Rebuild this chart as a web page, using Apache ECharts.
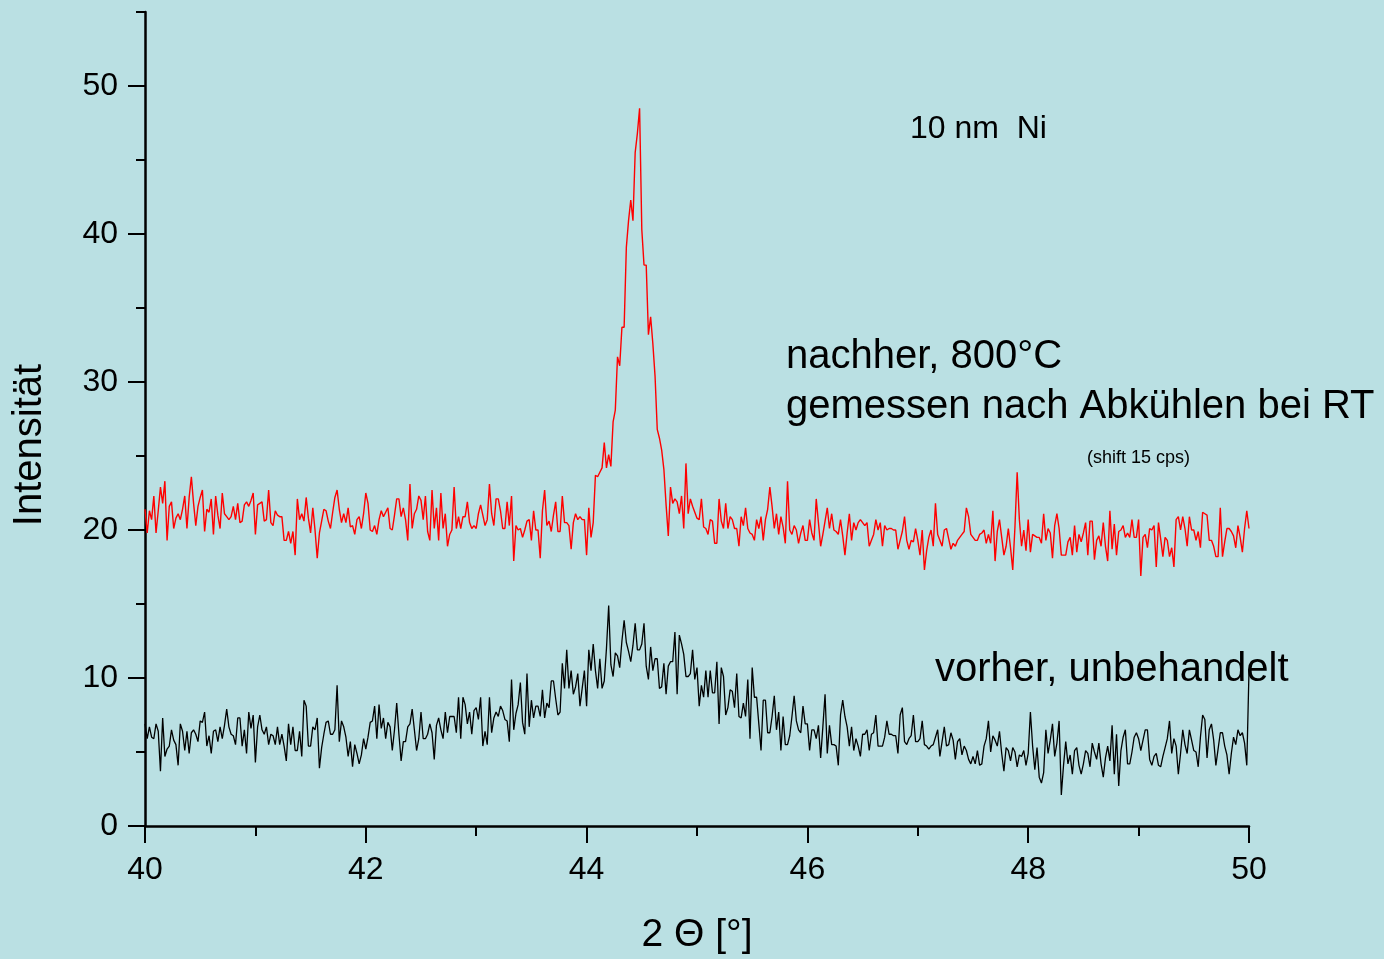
<!DOCTYPE html>
<html>
<head>
<meta charset="utf-8">
<title>XRD 10 nm Ni</title>
<script src="https://cdn.jsdelivr.net/npm/echarts@6/dist/echarts.min.js"></script>
<style>
  html, body { margin: 0; padding: 0; background: #BAE0E3; }
  #chart { width: 1384px; height: 959px; }
</style>
</head>
<body>
<div id="chart"></div>
<script>
// Scan: 2-theta from 40° to 50° in 0.02° steps
const thetaStart = 40;
const thetaStep = 0.02;

// After annealing at 800 °C, measured at RT (plotted with +15 cps offset)
const afterAnneal = [
  21.4, 19.8, 21.3, 20.7, 22.3, 19.8, 21.3, 22.9, 21.8, 23.3,
  19.3, 21.6, 21.9, 20.1, 20.8, 21.1, 20.7, 21.4, 22.3, 20.1,
  22.2, 23.6, 21.8, 20.3, 21.6, 22.2, 22.7, 19.9, 21.4, 21.2,
  22.1, 19.7, 22.3, 21.0, 20.1, 22.5, 21.1, 20.9, 20.7, 20.9,
  21.6, 20.7, 21.8, 20.5, 20.6, 21.7, 21.9, 21.6, 22.0, 22.5,
  19.7, 21.7, 21.8, 21.9, 20.6, 20.7, 22.7, 20.5, 20.3, 21.3,
  21.0, 20.9, 20.9, 19.3, 19.3, 19.9, 19.1, 19.9, 18.3, 22.1,
  20.7, 21.1, 20.6, 22.2, 20.8, 19.8, 21.5, 20.0, 18.1, 19.8,
  20.6, 21.4, 21.3, 20.6, 20.1, 21.2, 22.2, 22.7, 21.4, 20.5,
  21.1, 20.5, 21.5, 20.2, 20.3, 19.7, 20.7, 20.9, 20.1, 21.1,
  22.5, 21.8, 20.0, 19.9, 20.3, 19.7, 20.7, 21.3, 20.9, 21.2,
  21.5, 20.1, 20.0, 21.0, 22.1, 22.1, 20.9, 21.5, 20.7, 19.3,
  23.1, 20.1, 21.1, 21.4, 22.3, 22.0, 20.7, 22.3, 19.9, 19.3,
  22.7, 20.1, 21.5, 19.3, 22.5, 20.1, 21.1, 18.9, 19.7, 20.0,
  22.9, 20.1, 20.9, 20.1, 20.9, 20.9, 21.9, 20.5, 20.1, 20.3,
  20.1, 21.1, 21.7, 21.0, 20.3, 20.7, 23.1, 21.1, 20.3, 22.1,
  22.1, 21.3, 20.1, 20.1, 21.9, 20.3, 22.3, 17.9, 20.3, 20.0,
  20.1, 19.5, 20.0, 20.6, 20.7, 19.3, 21.3, 20.0, 20.0, 18.1,
  21.3, 22.7, 20.3, 20.6, 19.9, 21.0, 21.9, 19.9, 19.9, 22.3,
  20.5, 20.5, 20.3, 18.7, 20.5, 21.1, 20.7, 20.9, 20.7, 20.7,
  18.3, 21.5, 19.5, 20.5, 23.7, 23.6, 23.9, 24.2, 25.9, 24.2,
  25.1, 24.3, 27.3, 28.1, 31.7, 31.1, 33.7, 33.7, 39.1, 40.9,
  42.3, 40.9, 45.5, 46.8, 48.5, 40.3, 37.9, 37.9, 33.2, 34.4,
  32.6, 30.4, 26.8, 26.2, 25.4, 24.1, 21.7, 19.6, 22.9, 21.8,
  22.1, 21.9, 21.1, 22.3, 20.1, 24.5, 21.1, 22.1, 21.6, 21.2,
  20.8, 20.7, 22.1, 20.2, 20.1, 19.7, 20.7, 20.6, 19.1, 19.1,
  22.1, 20.6, 20.1, 21.8, 20.1, 20.9, 20.7, 20.1, 20.1, 18.9,
  20.9, 20.3, 21.5, 20.1, 19.8, 19.7, 19.3, 20.7, 20.1, 20.9,
  19.3, 20.7, 21.4, 22.9, 21.6, 20.1, 21.1, 19.7, 20.9, 20.2,
  19.1, 23.3, 20.0, 19.7, 20.3, 20.0, 19.1, 19.8, 20.3, 19.3,
  19.3, 20.7, 19.8, 19.3, 22.1, 20.5, 18.9, 19.7, 20.6, 21.5,
  20.1, 21.1, 20.0, 19.9, 19.7, 20.7, 19.6, 18.3, 19.8, 21.1,
  19.3, 20.5, 20.0, 20.5, 20.7, 20.5, 20.3, 20.5, 18.9, 19.3,
  19.7, 20.7, 20.0, 20.5, 18.9, 20.3, 20.0, 20.1, 20.1, 20.0,
  20.0, 18.7, 19.3, 19.9, 20.9, 19.3, 18.7, 19.3, 19.2, 20.1,
  19.3, 18.3, 20.0, 17.3, 18.6, 19.5, 20.0, 18.9, 21.8, 19.7,
  19.3, 18.9, 20.0, 20.1, 19.4, 18.7, 19.1, 18.9, 19.3, 19.5,
  19.7, 19.9, 21.5, 20.9, 19.7, 19.5, 19.3, 19.3, 19.7, 19.8,
  20.0, 19.1, 19.7, 19.1, 21.3, 17.9, 19.9, 20.7, 19.5, 18.3,
  18.9, 20.1, 18.8, 17.3, 20.2, 23.9, 20.7, 18.9, 20.0, 18.6,
  20.7, 18.5, 19.7, 19.6, 19.5, 19.5, 19.1, 21.1, 19.3, 20.1,
  19.8, 18.1, 20.3, 21.1, 20.1, 18.3, 18.3, 18.3, 19.2, 19.5,
  18.3, 20.3, 18.5, 19.7, 19.2, 19.8, 20.5, 18.3, 20.6, 20.6,
  18.0, 19.3, 19.6, 18.9, 20.5, 18.9, 17.9, 21.3, 18.7, 20.4,
  18.3, 19.9, 20.0, 20.3, 19.5, 19.8, 19.5, 20.7, 19.5, 19.5,
  20.7, 16.9, 19.5, 19.7, 18.8, 20.1, 20.0, 20.3, 17.5, 20.5,
  19.4, 18.2, 19.5, 19.3, 18.2, 18.8, 17.5, 20.7, 20.9, 20.0,
  20.9, 20.1, 18.9, 20.9, 20.0, 20.0, 19.3, 19.9, 18.8, 21.2,
  21.1, 21.0, 19.3, 19.3, 18.9, 18.2, 18.2, 21.5, 18.2, 19.2,
  20.1, 20.1, 19.9, 19.6, 18.8, 20.3, 19.5, 18.5, 20.1, 21.3,
  20.1
];

// As deposited, untreated
const beforeAnneal = [
  6.9, 5.9, 6.7, 6.0, 5.9, 6.9, 6.4, 3.7, 7.3, 4.7,
  5.2, 5.4, 6.5, 5.8, 5.5, 4.1, 6.9, 6.4, 5.1, 6.4,
  4.9, 6.3, 6.5, 6.2, 5.7, 7.1, 7.0, 7.7, 5.4, 6.1,
  4.9, 6.4, 6.5, 5.7, 6.7, 5.9, 6.8, 7.9, 6.7, 6.2,
  6.1, 5.5, 7.3, 7.3, 5.4, 6.5, 4.9, 7.7, 6.6, 7.5,
  4.3, 6.7, 7.5, 6.5, 6.2, 6.7, 5.5, 6.2, 6.1, 5.5,
  6.7, 5.5, 6.2, 5.4, 4.4, 6.9, 5.5, 6.7, 5.1, 5.1,
  6.4, 4.7, 8.5, 8.1, 5.4, 5.4, 6.7, 6.5, 7.3, 3.9,
  5.3, 6.2, 7.0, 7.1, 6.2, 6.2, 6.5, 9.5, 5.7, 7.1,
  6.7, 6.0, 4.7, 5.7, 4.0, 5.5, 4.9, 4.2, 4.8, 5.9,
  5.2, 6.0, 7.0, 7.1, 8.1, 5.9, 8.2, 6.6, 7.3, 5.9,
  7.0, 6.7, 5.1, 6.5, 8.3, 6.2, 4.4, 5.7, 5.7, 6.7,
  6.9, 7.9, 6.5, 5.1, 5.9, 7.7, 5.9, 5.9, 6.2, 6.9,
  6.3, 4.5, 6.8, 7.3, 6.5, 5.9, 7.7, 6.3, 7.4, 7.4,
  7.4, 6.3, 8.7, 5.9, 8.7, 8.2, 6.9, 7.7, 6.2, 7.8,
  8.0, 7.2, 8.7, 5.4, 6.4, 5.5, 8.7, 6.3, 7.3, 7.7,
  7.4, 8.1, 7.8, 7.2, 7.1, 5.7, 9.9, 6.5, 7.6, 8.2,
  9.7, 7.0, 6.2, 10.3, 6.7, 8.5, 7.3, 8.1, 8.1, 7.4,
  9.2, 7.3, 8.3, 8.0, 9.8, 9.8, 8.6, 7.5, 7.7, 11.0,
  9.3, 11.9, 9.3, 10.5, 8.9, 9.4, 10.3, 8.1, 9.3, 10.5,
  8.1, 11.9, 10.5, 12.3, 10.5, 9.3, 11.3, 9.3, 9.8, 12.0,
  14.9, 10.9, 10.1, 11.7, 11.5, 10.7, 12.5, 13.9, 12.4, 11.8,
  11.1, 12.2, 13.7, 11.9, 11.9, 12.3, 13.7, 10.8, 9.9, 12.1,
  10.5, 11.3, 11.3, 9.3, 9.4, 11.0, 8.9, 10.8, 11.1, 11.1,
  13.1, 8.9, 12.9, 12.3, 11.6, 10.1, 10.1, 10.3, 11.9, 9.9,
  10.7, 8.1, 9.5, 8.7, 10.5, 8.7, 10.5, 9.0, 9.0, 11.1,
  6.9, 10.7, 10.1, 7.5, 8.0, 9.2, 9.1, 8.0, 10.3, 7.4,
  7.3, 8.3, 7.4, 9.9, 5.9, 10.7, 8.7, 8.7, 6.9, 5.1,
  8.5, 8.5, 6.3, 6.3, 7.4, 8.8, 6.5, 7.7, 5.1, 7.4,
  5.5, 5.5, 6.1, 7.4, 8.8, 7.1, 6.5, 6.3, 8.1, 6.9,
  6.9, 5.1, 6.5, 6.5, 5.9, 6.8, 4.6, 6.7, 8.9, 4.9,
  6.8, 5.5, 5.5, 5.4, 4.1, 7.5, 8.5, 7.4, 6.7, 5.4,
  6.7, 5.1, 5.9, 5.4, 4.7, 6.2, 6.2, 6.5, 5.1, 6.2,
  6.3, 7.5, 5.4, 5.4, 5.4, 6.0, 7.1, 6.2, 6.2, 6.1,
  6.1, 4.9, 7.5, 8.0, 5.7, 5.5, 5.9, 6.1, 7.5, 5.7,
  5.7, 5.9, 7.1, 5.5, 5.4, 5.2, 5.4, 5.5, 6.0, 6.5,
  4.7, 5.7, 6.7, 5.4, 5.5, 6.3, 5.8, 4.5, 5.7, 5.9,
  4.8, 5.4, 5.1, 4.5, 4.2, 4.7, 4.2, 5.1, 4.1, 4.2,
  5.4, 5.9, 7.1, 5.0, 6.1, 5.8, 5.4, 6.4, 4.9, 3.7,
  5.3, 5.1, 4.4, 5.3, 5.0, 4.0, 4.8, 4.7, 5.1, 4.1,
  4.9, 7.7, 5.4, 3.8, 5.3, 3.3, 2.9, 3.6, 6.5, 4.9,
  5.8, 6.9, 4.7, 5.6, 7.1, 2.1, 4.1, 5.7, 4.2, 4.8,
  3.5, 5.1, 5.3, 4.1, 3.5, 4.2, 5.1, 4.9, 4.0, 5.6,
  5.0, 4.5, 5.6, 4.2, 3.3, 4.6, 5.4, 4.4, 6.8, 3.5,
  6.2, 2.7, 5.1, 6.0, 6.5, 4.2, 4.2, 5.0, 6.0, 6.3,
  5.9, 5.1, 5.8, 6.5, 6.5, 4.5, 4.1, 4.7, 4.9, 4.1,
  4.0, 4.7, 5.3, 5.9, 7.1, 4.9, 5.9, 5.4, 3.5, 4.9,
  6.5, 5.5, 4.9, 6.5, 5.8, 5.1, 5.0, 4.0, 6.0, 7.5,
  7.2, 4.6, 6.5, 6.9, 5.8, 4.1, 5.2, 6.3, 6.3, 5.4,
  4.8, 3.5, 4.9, 6.0, 5.5, 6.5, 6.1, 6.3, 5.6, 4.1,
  10.5
];

// Axis ticks
const xMajorTicks = [40, 42, 44, 46, 48, 50];
const xMinorTicks = [41, 43, 45, 47, 49];
const yMajorTicks = [0, 10, 20, 30, 40, 50];
const yMinorTicks = [5, 15, 25, 35, 45, 55];

const FONT = '"Liberation Sans", Arial, Helvetica, sans-serif';
const INK = '#000000';

function toPairs(values) {
  return values.map((v, i) => [Math.round((thetaStart + i * thetaStep) * 100) / 100, v]);
}

const chart = echarts.init(document.getElementById('chart'), null, { renderer: 'canvas' });

const baseAxis = {
  type: 'value',
  splitLine: { show: false },
  axisPointer: { show: false }
};

chart.setOption({
  backgroundColor: '#BAE0E3',
  animation: false,
  grid: { left: 145, right: 135, top: 12, bottom: 133, containLabel: false },
  xAxis: [
    Object.assign({}, baseAxis, {
      min: 40, max: 50, position: 'bottom',
      axisLine: { show: true, onZero: false, lineStyle: { color: INK, width: 2.5 } },
      axisTick: { show: true, customValues: xMajorTicks, length: 17, lineStyle: { color: INK, width: 2 } },
      axisLabel: { show: true, customValues: xMajorTicks, color: INK, fontSize: 32, fontFamily: FONT, margin: 28 }
    }),
    Object.assign({}, baseAxis, {
      min: 40, max: 50, position: 'bottom',
      axisLine: { show: false, onZero: false },
      axisTick: { show: true, customValues: xMinorTicks, length: 10, lineStyle: { color: INK, width: 2 } },
      axisLabel: { show: false }
    })
  ],
  yAxis: [
    Object.assign({}, baseAxis, {
      min: 0, max: 55, position: 'left',
      axisLine: { show: true, onZero: false, lineStyle: { color: INK, width: 2.5 } },
      axisTick: { show: true, customValues: yMajorTicks, length: 17, lineStyle: { color: INK, width: 2 } },
      axisLabel: { show: true, customValues: yMajorTicks, color: INK, fontSize: 32, fontFamily: FONT, margin: 27 }
    }),
    Object.assign({}, baseAxis, {
      min: 0, max: 55, position: 'left',
      axisLine: { show: false, onZero: false },
      axisTick: { show: true, customValues: yMinorTicks, length: 9, lineStyle: { color: INK, width: 2 } },
      axisLabel: { show: false }
    })
  ],
  series: [
    {
      name: 'nachher, 800°C',
      type: 'line',
      xAxisIndex: 0, yAxisIndex: 0,
      data: toPairs(afterAnneal),
      symbol: 'none',
      showSymbol: false,
      lineStyle: { color: '#FF0000', width: 1.4 },
      z: 3
    },
    {
      name: 'vorher, unbehandelt',
      type: 'line',
      xAxisIndex: 0, yAxisIndex: 0,
      data: toPairs(beforeAnneal),
      symbol: 'none',
      showSymbol: false,
      lineStyle: { color: '#000000', width: 1.3 },
      z: 3
    }
  ],
  graphic: [
    { type: 'text', x: 910, y: 129, style: { text: '10 nm  Ni', font: '32px ' + FONT, fill: INK, textAlign: 'left', textVerticalAlign: 'middle' } },
    { type: 'text', x: 786, y: 357, style: { text: 'nachher, 800°C', font: '40px ' + FONT, fill: INK, textAlign: 'left', textVerticalAlign: 'middle' } },
    { type: 'text', x: 786, y: 407, style: { text: 'gemessen nach Abkühlen bei RT', font: '40px ' + FONT, fill: INK, textAlign: 'left', textVerticalAlign: 'middle' } },
    { type: 'text', x: 1087, y: 458, style: { text: '(shift 15 cps)', font: '18px ' + FONT, fill: INK, textAlign: 'left', textVerticalAlign: 'middle' } },
    { type: 'text', x: 935, y: 670, style: { text: 'vorher, unbehandelt', font: '40px ' + FONT, fill: INK, textAlign: 'left', textVerticalAlign: 'middle' } },
    { type: 'text', x: 697, y: 935, style: { text: '2 Θ [°]', font: '39px ' + FONT, fill: INK, textAlign: 'center', textVerticalAlign: 'middle' } },
    { type: 'text', x: 30, y: 445, rotation: Math.PI / 2, style: { text: 'Intensität', font: '40px ' + FONT, fill: INK, textAlign: 'center', textVerticalAlign: 'middle' } }
  ]
});
</script>
</body>
</html>
